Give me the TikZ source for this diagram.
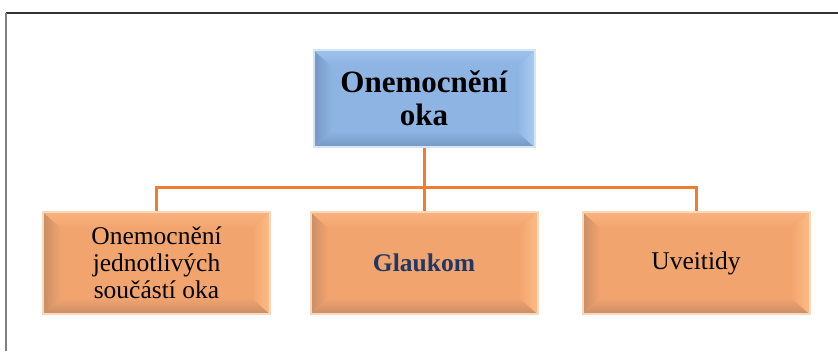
\documentclass[tikz,border=0pt]{standalone}
\usepackage{fontspec}
\setmainfont{Liberation Serif}
\usetikzlibrary{calc}
\definecolor{obase}{HTML}{F2A46F}
\definecolor{odark}{HTML}{C98D66}
\definecolor{olight}{HTML}{FDBD86}
\definecolor{oedge}{HTML}{F9D9BD}
\definecolor{bbase}{HTML}{8DB4E2}
\definecolor{bdark}{HTML}{7598C4}
\definecolor{blight}{HTML}{A9CBF2}
\definecolor{bedge}{HTML}{D5E5F7}
\definecolor{conn}{HTML}{ED7D31}
\definecolor{navy}{HTML}{1F3864}
\tikzset{
  bevel/.style n args={4}{rectangle, inner sep=0pt, align=center,
    fill=#1, draw=#4, line width=2pt,
    path picture={
      \coordinate (nw) at (path picture bounding box.north west);
      \coordinate (ne) at (path picture bounding box.north east);
      \coordinate (sw) at (path picture bounding box.south west);
      \coordinate (se) at (path picture bounding box.south east);
      \coordinate (inw) at ($(nw)+(18pt,-16pt)$);
      \coordinate (ine) at ($(ne)+(-18pt,-16pt)$);
      \coordinate (isw) at ($(sw)+(18pt,16pt)$);
      \coordinate (ise) at ($(se)+(-18pt,16pt)$);
      \fill[left color=#2, right color=#1] (nw) -- (inw) -- (isw) -- (sw) -- cycle;
      \fill[top color=#1, bottom color=#2] (sw) -- (isw) -- (ise) -- (se) -- cycle;
      \fill[left color=#1, right color=#3] (ne) -- (ine) -- (ise) -- (se) -- cycle;
      \fill[top color=#3!60!#1, bottom color=#1] (nw) -- (inw) -- (ine) -- (ne) -- cycle;
    }},
  orangebox/.style={bevel={obase}{odark}{olight}{oedge}, minimum width=227pt, minimum height=102pt,
    font=\fontsize{25.5}{27}\selectfont},
  bluebox/.style={bevel={bbase}{bdark}{blight}{bedge}, minimum width=221pt, minimum height=97pt,
    font=\fontsize{31}{33}\selectfont\bfseries},
  connector/.style={draw=conn, line width=3pt}
}
\begin{document}
\begin{tikzpicture}[x=1pt, y=-1pt]
\useasboundingbox (0,0) rectangle (838,351);
\draw[line width=1.4pt, draw=black!80] (6,13) -- (838,13);
\draw[line width=2pt, draw=black!50] (6,13) -- (6,351);
\node[bluebox] (top) at (424,98.5) {Onemocnění\\oka};
\node[orangebox] (left) at (156.5,263) {Onemocnění\\jednotlivých\\součástí oka};
\node[orangebox, font=\fontsize{25.5}{27}\selectfont\bfseries, text=navy] (mid) at (424,263) {Glaukom};
\node[orangebox] (right) at (696,263) {Uveitidy};
\coordinate (bus) at (424,187);
\draw[connector] (top.south) -- (mid.north);
\draw[connector] (bus) -| (left.north);
\draw[connector] (bus) -| (right.north);
\end{tikzpicture}
\end{document}
